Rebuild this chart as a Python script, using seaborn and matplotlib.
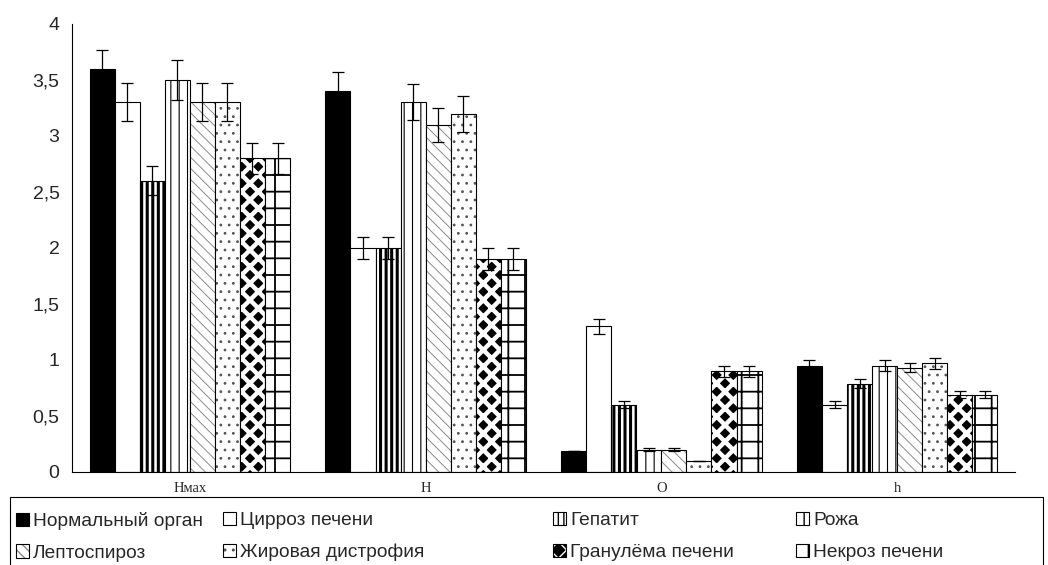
"""Grouped bar chart: liver echo parameters by pathology (hatched, with error bars)."""
import numpy as np
import pandas as pd
import matplotlib
matplotlib.use("Agg")
import matplotlib.pyplot as plt
import seaborn as sns
from matplotlib.patches import Rectangle
from matplotlib.ticker import FuncFormatter, FixedLocator, MultipleLocator

# x categories and hue groups
params = ["Нмах", "Н", "О", "h"]
groups = ["Нормальный орган", "Цирроз печени", "Гепатит", "Рожа",
          "Лептоспироз", "Жировая дистрофия", "Гранулёма печени", "Некроз печени"]

# mean values per group (Нмах, Н, О, h)
normal = [3.6, 3.4, 0.19, 0.95]
cirrhosis = [3.3, 2.0, 1.3, 0.6]
hepatitis = [2.6, 2.0, 0.6, 0.79]
erysipelas = [3.5, 3.3, 0.2, 0.95]
leptospirosis = [3.3, 3.1, 0.2, 0.93]
steatosis = [3.3, 3.2, 0.1, 0.97]
granuloma = [2.8, 1.9, 0.9, 0.69]
necrosis = [2.8, 1.9, 0.9, 0.69]

# error bar half-widths
normal_err = [0.17, 0.17, 0.0, 0.05]
cirrhosis_err = [0.17, 0.1, 0.07, 0.03]
hepatitis_err = [0.13, 0.1, 0.03, 0.04]
erysipelas_err = [0.18, 0.16, 0.01, 0.05]
leptospirosis_err = [0.17, 0.15, 0.01, 0.04]
steatosis_err = [0.17, 0.16, 0.0, 0.05]
granuloma_err = [0.14, 0.1, 0.05, 0.03]
necrosis_err = [0.14, 0.1, 0.05, 0.03]

values = [normal, cirrhosis, hepatitis, erysipelas,
          leptospirosis, steatosis, granuloma, necrosis]
errors = [normal_err, cirrhosis_err, hepatitis_err, erysipelas_err,
          leptospirosis_err, steatosis_err, granuloma_err, necrosis_err]

df = pd.DataFrame({
    "param": params * len(groups),
    "group": np.repeat(groups, len(params)),
    "value": np.concatenate(values),
})

# fill / hatch per group: (facecolor, hatch, hatch colour, hatch linewidth)
styles = [
    ("black", None, "black", 1.0),
    ("white", None, "black", 1.0),
    ("white", "|||", "black", 2.2),
    ("white", "||", "black", 0.8),
    ("white", "\\\\\\", "#8a8a8a", 0.7),
    ("white", "..", "#555555", 0.8),
    ("black", "xx", "white", 3.2),
    ("white", "+", "black", 1.3),
]

sns.set_style("white")
plt.rcParams["font.family"] = ["Liberation Sans", "DejaVu Sans"]

fig = plt.figure(figsize=(10.48, 5.65), dpi=100)
ax = fig.add_axes([72 / 1048, 93 / 565, 943 / 1048, 448 / 565])

sns.barplot(data=df, x="param", y="value", hue="group", order=params,
            hue_order=groups, palette=dict(zip(groups, ["white"] * 8)),
            saturation=1, width=0.85, errorbar=None, edgecolor="black",
            linewidth=0.8, legend=False, ax=ax)

bar_containers = list(ax.containers)
for container, (fc, hatch, hc, hlw), vals, errs in zip(bar_containers, styles, values, errors):
    for p in container:
        p.set_facecolor(fc)
        p.set_edgecolor("black")
        if hatch:
            p.set_hatch(hatch)
            p._hatch_color = matplotlib.colors.to_rgba(hc)  # hatch colour apart from edge
            if hasattr(p, "set_hatch_linewidth"):
                p.set_hatch_linewidth(hlw)
    xs = [p.get_x() + p.get_width() / 2 for p in container]
    ax.errorbar(xs, vals, yerr=errs, fmt="none", ecolor="black",
                elinewidth=0.9, capsize=4.5, capthick=0.9, zorder=5)

ax.set_xlim(-0.5, 3.5)
ax.set_ylim(0, 4)
ax.yaxis.set_major_locator(MultipleLocator(0.5))
ax.yaxis.set_major_formatter(FuncFormatter(lambda v, pos: f"{v:g}".replace(".", ",")))
ax.xaxis.set_minor_locator(FixedLocator(np.arange(-0.5, 4, 1)))
ax.tick_params(axis="x", which="major", length=0, pad=7)
ax.tick_params(axis="x", which="minor", length=4, width=0.8, direction="out", color="black")
ax.tick_params(axis="y", length=5, width=0.8, direction="out", color="black",
               labelsize=14, pad=4)
ax.set_xlabel("")
ax.set_ylabel("")
for lbl in ax.get_xticklabels():
    lbl.set_fontfamily("Liberation Serif")
    lbl.set_fontsize(10.5)
sns.despine(ax=ax)
for s in ("left", "bottom"):
    ax.spines[s].set_color("black")
    ax.spines[s].set_linewidth(0.8)

# legend box under the axes, 2 rows x 4 columns (one legend per column)
fig.add_artist(Rectangle((10 / 1048, -0.01), 1033 / 1048, 68 / 565 + 0.01,
                         transform=fig.transFigure, fill=False,
                         edgecolor="black", linewidth=0.8))
handles = [c.patches[0] for c in bar_containers]
col_x = [16, 223, 553, 796]
for c, x in enumerate(col_x):
    fig.legend([handles[c], handles[c + 4]], [groups[c], groups[c + 4]],
               loc="upper left", bbox_to_anchor=(x / 1048, 53 / 565),
               frameon=False, fontsize=13.8, handlelength=0.7,
               handleheight=0.7, handletextpad=0.2, borderaxespad=0,
               borderpad=0, labelspacing=0.75)

fig.savefig("out.png", dpi=100)
